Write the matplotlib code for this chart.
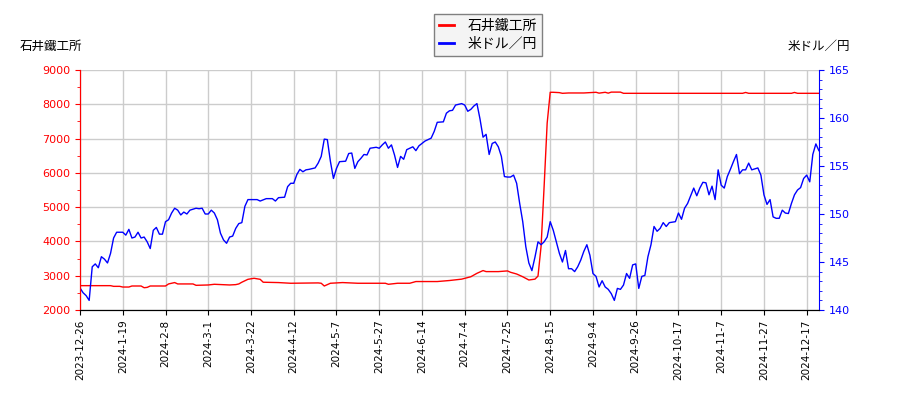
import numpy as np
import matplotlib
matplotlib.use("Agg")
import matplotlib.pyplot as plt
from matplotlib.ticker import MultipleLocator

plt.rcParams['font.family'] = ['Noto Sans CJK JP', 'DejaVu Sans']

# x軸の目盛り (14営業日ごと)
tick_labels = ['2023-12-26', '2024-1-19', '2024-2-8', '2024-3-1', '2024-3-22',
               '2024-4-12', '2024-5-7', '2024-5-27', '2024-6-14', '2024-7-4',
               '2024-7-25', '2024-8-15', '2024-9-4', '2024-9-26', '2024-10-17',
               '2024-11-7', '2024-11-27', '2024-12-17']
tick_step = 14
n_days = 243

# 石井鐵工所 株価 (営業日インデックス, 円)
stock = [(0, 2710), (10, 2710), (11, 2690), (13, 2690), (14, 2670), (16, 2670),
         (17, 2700), (20, 2700), (21, 2650), (22, 2660), (23, 2700), (28, 2700),
         (29, 2760), (31, 2800), (32, 2760), (37, 2760), (38, 2720), (42, 2730),
         (44, 2750), (49, 2730), (51, 2740), (52, 2760), (53, 2810), (55, 2895),
         (57, 2925), (59, 2895), (60, 2810), (65, 2800), (69, 2780), (78, 2790),
         (79, 2780), (80, 2700), (81, 2740), (82, 2780), (86, 2800), (91, 2780),
         (100, 2780), (101, 2750), (104, 2780), (108, 2780), (110, 2830), (117, 2830),
         (121, 2860), (125, 2900), (128, 2970), (130, 3070), (132, 3150), (133, 3120),
         (137, 3120), (140, 3140), (141, 3100), (143, 3050), (145, 2970), (147, 2875),
         (149, 2900), (150, 2990), (151, 3850), (152, 5600), (153, 7450), (154, 8350),
         (155, 8350), (157, 8340), (158, 8320), (160, 8330), (165, 8330), (169, 8350),
         (170, 8325), (172, 8350), (173, 8325), (174, 8355), (177, 8355), (178, 8320),
         (217, 8320), (218, 8345), (219, 8320), (233, 8320), (234, 8345), (235, 8320),
         (242, 8320)]

# 米ドル／円 (営業日インデックス, 円)
usdjpy = [(0, 142.3), (1, 141.8), (2, 141.5), (3, 141.0), (4, 144.5), (5, 144.8),
          (6, 144.4), (7, 145.55), (8, 145.3), (9, 144.9), (10, 145.9), (11, 147.5),
          (12, 148.1), (14, 148.1), (15, 147.8), (16, 148.4), (17, 147.5), (18, 147.6),
          (19, 148.1), (20, 147.5), (21, 147.6), (22, 147.1), (23, 146.4), (24, 148.3),
          (25, 148.6), (26, 147.9), (27, 147.9), (28, 149.2), (29, 149.4), (30, 150.1),
          (31, 150.6), (32, 150.4), (33, 149.9), (34, 150.2), (35, 150.0), (36, 150.4),
          (38, 150.6), (39, 150.55), (40, 150.6), (41, 150.0), (42, 150.0), (43, 150.4),
          (44, 150.1), (45, 149.4), (46, 148.0), (47, 147.3), (48, 146.95), (49, 147.6),
          (50, 147.7), (51, 148.5), (52, 149.0), (53, 149.1), (54, 150.8), (55, 151.5),
          (57, 151.5), (58, 151.5), (59, 151.35), (61, 151.6), (63, 151.6), (64, 151.35),
          (65, 151.7), (67, 151.75), (68, 152.85), (69, 153.2), (70, 153.2), (71, 154.1),
          (72, 154.65), (73, 154.4), (74, 154.6), (75, 154.65), (77, 154.8), (78, 155.3),
          (79, 156.0), (80, 157.8), (81, 157.75), (82, 155.5), (83, 153.7), (84, 154.75),
          (85, 155.45), (87, 155.5), (88, 156.3), (89, 156.35), (90, 154.75), (91, 155.45),
          (92, 155.8), (93, 156.2), (94, 156.15), (95, 156.85), (97, 156.95), (98, 156.85),
          (99, 157.2), (100, 157.5), (101, 156.85), (102, 157.2), (103, 156.15),
          (104, 154.85), (105, 156.0), (106, 155.7), (107, 156.7), (109, 157.0),
          (110, 156.6), (111, 157.1), (113, 157.6), (115, 157.9), (116, 158.6),
          (117, 159.55), (119, 159.6), (120, 160.5), (121, 160.75), (122, 160.8),
          (123, 161.35), (125, 161.5), (126, 161.35), (127, 160.7), (128, 160.9),
          (129, 161.25), (130, 161.5), (131, 159.9), (132, 158.0), (133, 158.3),
          (134, 156.2), (135, 157.35), (136, 157.5), (137, 157.0), (138, 156.0),
          (139, 153.9), (140, 153.85), (141, 153.85), (142, 154.05), (143, 153.2),
          (144, 151.1), (145, 149.2), (146, 146.6), (147, 144.9), (148, 144.1),
          (149, 145.5), (150, 147.1), (151, 146.8), (152, 147.1), (153, 147.6),
          (154, 149.2), (155, 148.3), (156, 147.1), (157, 145.9), (158, 145.0),
          (159, 146.2), (160, 144.3), (161, 144.3), (162, 144.0), (163, 144.5),
          (164, 145.2), (165, 146.1), (166, 146.8), (167, 145.7), (168, 143.8),
          (169, 143.5), (170, 142.4), (171, 143.05), (172, 142.4), (173, 142.15),
          (174, 141.7), (175, 141.0), (176, 142.25), (177, 142.15), (178, 142.6),
          (179, 143.8), (180, 143.3), (181, 144.7), (182, 144.8), (183, 142.25),
          (184, 143.5), (185, 143.6), (186, 145.55), (187, 146.8), (188, 148.7),
          (189, 148.2), (190, 148.5), (191, 149.1), (192, 148.7), (193, 149.1),
          (195, 149.2), (196, 150.1), (197, 149.45), (198, 150.6), (199, 151.1),
          (201, 152.7), (202, 151.9), (203, 152.7), (204, 153.3), (205, 153.25),
          (206, 152.0), (207, 152.9), (208, 151.5), (209, 154.6), (210, 153.0),
          (211, 152.7), (212, 153.9), (213, 154.65), (214, 155.45), (215, 156.2),
          (216, 154.2), (217, 154.6), (218, 154.6), (219, 155.3), (220, 154.6),
          (222, 154.8), (223, 154.05), (224, 152.0), (225, 151.0), (226, 151.5),
          (227, 149.7), (228, 149.55), (229, 149.55), (230, 150.4), (231, 150.1),
          (232, 150.05), (233, 151.1), (234, 152.0), (235, 152.5), (236, 152.75),
          (237, 153.7), (238, 154.05), (239, 153.35), (240, 156.2), (241, 157.3),
          (242, 156.6)]

stock_idx, stock_val = zip(*stock)
fx_idx, fx_val = zip(*usdjpy)

fig = plt.figure(figsize=(9, 4), dpi=100)
ax1 = fig.add_axes([0.0889, 0.225, 0.821, 0.6])
ax2 = ax1.twinx()

l1, = ax1.plot(stock_idx, stock_val, color='red', lw=1, label='石井鐵工所')
l2, = ax2.plot(fx_idx, fx_val, color='blue', lw=1, label='米ドル／円')

ax1.set_xlim(0, n_days - 1)
ax1.set_ylim(2000, 9000)
ax2.set_ylim(140, 165)

ax1.set_xticks(np.arange(len(tick_labels)) * tick_step)
ax1.set_xticklabels(tick_labels, rotation=90, fontsize=7.5, family='DejaVu Sans')
ax1.yaxis.set_major_locator(MultipleLocator(1000))
ax1.yaxis.set_minor_locator(MultipleLocator(500))
ax2.yaxis.set_major_locator(MultipleLocator(5))
ax2.yaxis.set_minor_locator(MultipleLocator(1))
ax1.tick_params(axis='y', which='both', colors='red', labelsize=8)
ax2.tick_params(axis='y', which='both', colors='blue', labelsize=8)
for lab in ax1.get_yticklabels() + ax2.get_yticklabels():
    lab.set_family('DejaVu Sans')

ax1.grid(True, color='#cccccc', lw=1)
ax1.set_axisbelow(True)

for ax in (ax1, ax2):
    ax.spines['top'].set_visible(False)
ax2.spines['left'].set_color('red')
ax2.spines['right'].set_color('blue')
ax1.spines['left'].set_color('red')
ax1.spines['right'].set_visible(False)

fig.text(0.022, 0.885, '石井鐵工所', fontsize=9, ha='left', va='center')
fig.text(0.945, 0.885, '米ドル／円', fontsize=9, ha='right', va='center')

leg = fig.legend(handles=[l1, l2], loc='center', bbox_to_anchor=(0.542, 0.912),
                 fontsize=10, fancybox=False, edgecolor='#808080', framealpha=1,
                 facecolor='#f4f4f4', handlelength=1.1, handletextpad=1.0,
                 borderpad=0.35, labelspacing=0.3)
for h in leg.get_lines():
    h.set_linewidth(2)

fig.savefig('out.png', dpi=100)
